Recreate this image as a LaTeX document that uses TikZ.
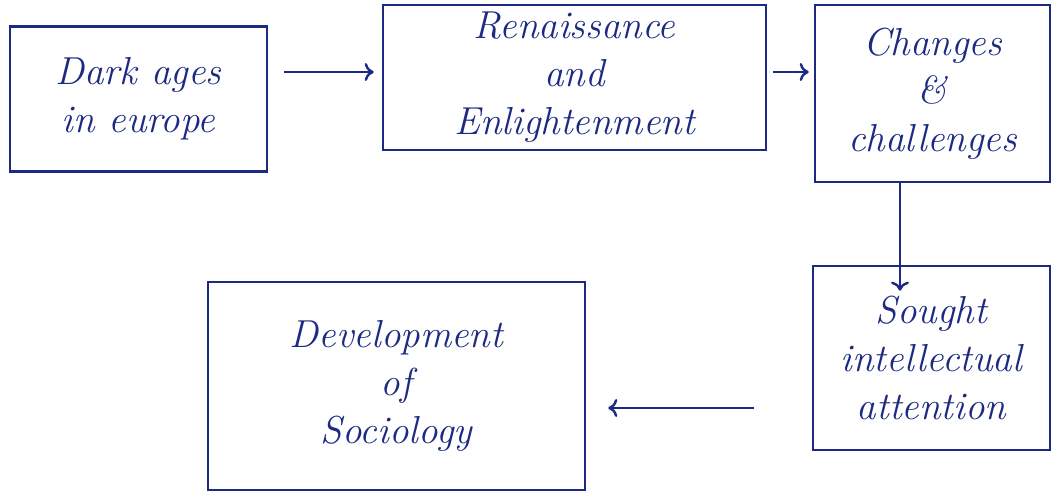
\documentclass[tikz,border=0pt]{standalone}
\usetikzlibrary{arrows.meta}
\definecolor{ink}{HTML}{1C2A82}
\tikzset{
  box/.style={draw=ink, line width=2.6pt, text=ink, align=center, inner sep=0pt,
    font=\fontsize{39}{48}\selectfont\itshape},
  arr/.style={draw=ink, line width=2.4pt, -{To[length=9pt,width=18pt]}}
}
\begin{document}
\begin{tikzpicture}[x=1pt,y=-1pt]
\useasboundingbox (0,0) rectangle (1053,498);
\node[box, minimum width=257pt, minimum height=145pt] (b1) at (138.5,99) {Dark ages\\in europe};
\node[box, minimum width=383pt, minimum height=145pt] (b2) at (574.5,77.5) {Renaissance\\and\\Enlightenment};
\node[box, minimum width=235pt, minimum height=177pt] (b3) at (932.5,93.5) {Changes\\\&\\challenges};
\node[box, minimum width=237pt, minimum height=184pt] (b4) at (931.5,358) {Sought\\intellectual\\attention};
\node[box, minimum width=377pt, minimum height=208pt] (b5) at (396.5,386) {Development\\of\\Sociology};
\coordinate (a1) at (0,72);
\coordinate (a3) at (900,0);
\coordinate (a4) at (0,408);
\draw[arr, shorten <=16pt, shorten >=8pt] (b1.east |- a1) -- (b2.west |- a1);
\draw[arr, shorten <=6pt, shorten >=5pt] (b2.east |- a1) -- (b3.west |- a1);
\draw[arr, shorten >=-26pt] (b3.south -| a3) -- (b4.north -| a3);
\draw[arr, shorten <=58pt, shorten >=22pt] (b4.west |- a4) -- (b5.east |- a4);
\end{tikzpicture}
\end{document}
